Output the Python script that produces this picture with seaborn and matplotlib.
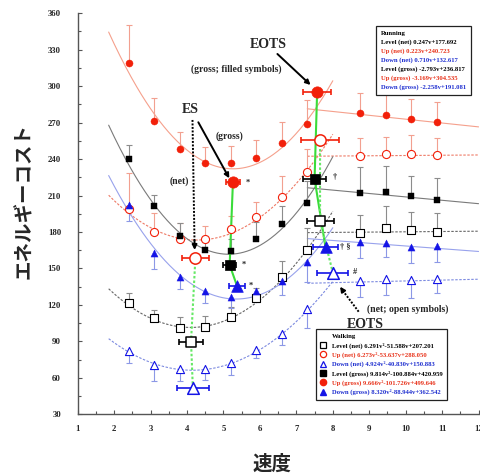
import numpy as np
import pandas as pd
import matplotlib
matplotlib.use("Agg")
import matplotlib.pyplot as plt
from matplotlib.lines import Line2D
from matplotlib.ticker import MultipleLocator
import seaborn as sns

# walking / running speeds
walk_speed = [2.4, 3.1, 3.8, 4.5, 5.2, 5.9, 6.6, 7.3]
run_speed = [8.75, 9.45, 10.15, 10.85]

# walking means and error bars (red/black up, blue down)
up_gross_w = [318.9, 271.6, 248.4, 237.1, 237.1, 241.2, 253.0, 268.7]
up_gross_w_err = [31.5, 19, 14, 13, 13.5, 14.6, 17.8, 20]
up_net_w = [199.2, 180.0, 174.0, 174.0, 182.3, 192.4, 209.1, 229.7]
up_net_w_err = [29.6, 15.4, 13, 11, 11.2, 12.6, 17, 18.4]
level_gross_w = [240.1, 201.0, 177.0, 165.0, 164.5, 174.0, 186.6, 203.7]
level_gross_w_err = [11.5, 9.5, 10, 10, 10, 14.5, 14.8, 18]
level_net_w = [121.4, 109.0, 100.8, 102.1, 109.8, 125.5, 143.0, 165.2]
level_net_w_err = [8.8, 6.8, 9.6, 9, 8.8, 8.2, 13, 18]
down_gross_w = [202.3, 163.0, 142.8, 131.7, 126.8, 131.7, 140.0, 155.6]
down_gross_w_err = [13, 13.4, 9.9, 9.8, 9, 9, 11.8, 16.5]
down_net_w = [82.3, 70.6, 67.0, 67.0, 72.0, 82.9, 95.8, 116.4]
down_net_w_err = [10.3, 12.9, 10, 9, 9.6, 6.8, 8.8, 15.6]

# running means and error bars
up_gross_r = [277.7, 276.1, 273.3, 270.8]
up_gross_r_err = [16.5, 17.5, 16, 16.5]
up_net_r = [242.7, 244.5, 244.0, 243.4]
up_net_r_err = [14.5, 14, 15.8, 13.8]
level_gross_r = [211.9, 213.0, 209.7, 206.4]
level_gross_r_err = [21.9, 21, 16.7, 17.8]
level_net_r = [179.5, 183.3, 181.7, 180.3]
level_net_r_err = [14.5, 18, 15, 15]
down_gross_r = [172.0, 171.2, 167.9, 168.5]
down_gross_r_err = [13.6, 12, 13.6, 12.9]
down_net_r = [139.7, 141.1, 140.5, 141.4]
down_net_r_err = [12.9, 12.9, 15, 11.8]

# ES / EOTS points (order: up, level, down)
es_gross_x = [5.26, 5.17, 5.37]
es_gross_y = [221.4, 152.9, 135.8]
es_gross_xerr = [0.2, 0.17, 0.22]
es_net_x = [4.23, 4.11, 4.16]
es_net_y = [158.9, 89.8, 51.4]
es_net_xerr = [0.37, 0.32, 0.43]
eots_gross_x = [7.57, 7.5, 7.8]
eots_gross_y = [295.5, 223.7, 167.4]
eots_gross_xerr = [0.38, 0.32, 0.33]
eots_net_x = [7.65, 7.65, 8.0]
eots_net_y = [255.8, 189.1, 146.5]
eots_net_xerr = [0.52, 0.37, 0.43]

# regression coefficients shown in the legends
walk_level_net = [6.291, -51.588, 207.201]
walk_up_net = [6.273, -53.637, 288.050]
walk_down_net = [4.924, -40.830, 150.883]
walk_level_gross = [9.814, -100.884, 420.959]
walk_up_gross = [9.666, -101.726, 499.646]
walk_down_gross = [8.320, -88.944, 362.542]
run_level_net = [0.247, 177.692]
run_up_net = [0.223, 240.723]
run_down_net = [0.710, 132.617]
run_level_gross = [-2.793, 236.817]
run_up_gross = [-3.169, 304.535]
run_down_gross = [-2.258, 191.081]

RED = "#F2200A"
BLACK = "#000000"
BLUE = "#1414E6"
TXT_RED = "#E8341C"
TXT_BLUE = "#2030D0"

sns.set_theme(style="ticks")
plt.rcParams["font.family"] = ["Liberation Serif", "DejaVu Serif"]
plt.rcParams["font.weight"] = "bold"

fig = plt.figure(figsize=(4.81, 4.74), dpi=100)
ax = fig.add_axes([0.1615, 0.126, 0.8335, 0.846])

# fitted curves
wx = np.linspace(1.85, 8.0, 200)
rx = np.linspace(7.3, 12.0, 50)
dash = (0, (2.2, 1.4))
curve_styles = [
    (walk_up_gross, run_up_gross, "#F5A08C", "-"),
    (walk_up_net, run_up_net, "#EE7A66", dash),
    (walk_level_gross, run_level_gross, "#7A7A7A", "-"),
    (walk_level_net, run_level_net, "#666666", dash),
    (walk_down_gross, run_down_gross, "#98A2EC", "-"),
    (walk_down_net, run_down_net, "#7C8AE0", dash),
]
for wc, rc, col, ls in curve_styles:
    sns.lineplot(x=wx, y=np.polyval(wc, wx), color=col, lw=0.8, ax=ax, zorder=1).lines[-1].set_linestyle(ls)
    sns.lineplot(x=rx, y=np.polyval(rc, rx), color=col, lw=0.8, ax=ax, zorder=1).lines[-1].set_linestyle(ls)

# data points with one-sided error bars
series = [
    (up_gross_w + up_gross_r, up_gross_w_err + up_gross_r_err, RED, "o", True, 1, "#F2A090"),
    (up_net_w + up_net_r, up_net_w_err + up_net_r_err, RED, "o", False, 1, "#F2A090"),
    (level_gross_w + level_gross_r, level_gross_w_err + level_gross_r_err, BLACK, "s", True, 1, "#8C8C8C"),
    (level_net_w + level_net_r, level_net_w_err + level_net_r_err, BLACK, "s", False, 1, "#8C8C8C"),
    (down_gross_w + down_gross_r, down_gross_w_err + down_gross_r_err, BLUE, "^", True, -1, "#8C98E6"),
    (down_net_w + down_net_r, down_net_w_err + down_net_r_err, BLUE, "^", False, -1, "#8C98E6"),
]
xs = walk_speed + run_speed
for ys, errs, col, mk, filled, sign, ecol in series:
    ys = np.array(ys)
    errs = np.array(errs)
    tips = ys + sign * errs
    ax.vlines(xs, ys, tips, color=ecol, lw=0.8, zorder=2)
    ax.plot(xs, tips, ls="none", marker="_", ms=5, mew=0.8, color=ecol, zorder=2)
    size = 26 if mk != "s" else 21
    if filled:
        sns.scatterplot(x=xs, y=ys, marker=mk, s=size, color=col, edgecolor=col,
                        linewidth=0.3, ax=ax, zorder=4)
    else:
        sns.scatterplot(x=xs, y=ys, marker=mk, s=size + 8, color=col, facecolor="white",
                        edgecolor=col, linewidth=0.8, ax=ax, zorder=4)

# ES / EOTS connecting green lines
for gx, gy, ls, col in [(es_gross_x, es_gross_y, "-", "#3ADC3A"), (eots_gross_x, eots_gross_y, "-", "#3ADC3A"),
                        (es_net_x, es_net_y, (0, (1.2, 1.0)), "#66E866"),
                        (eots_net_x, eots_net_y, (0, (1.2, 1.0)), "#66E866")]:
    ax.plot(gx, gy, color=col, lw=1.5, ls=ls, zorder=3)

cols3 = [RED, BLACK, BLUE]
marks3 = ["o", "s", "^"]
sizes3 = [66, 54, 70]
for bx, by, bxe, filled in [(es_gross_x, es_gross_y, es_gross_xerr, True),
                            (eots_gross_x, eots_gross_y, eots_gross_xerr, True),
                            (es_net_x, es_net_y, es_net_xerr, False),
                            (eots_net_x, eots_net_y, eots_net_xerr, False)]:
    for i in range(3):
        ax.errorbar(bx[i], by[i], xerr=bxe[i], fmt="none", ecolor=cols3[i], elinewidth=1.2,
                    capsize=2.5, capthick=1.2, zorder=5)
        if filled:
            sns.scatterplot(x=[bx[i]], y=[by[i]], marker=marks3[i], s=sizes3[i], color=cols3[i],
                            edgecolor=cols3[i], linewidth=0.5, ax=ax, zorder=6)
        else:
            sns.scatterplot(x=[bx[i]], y=[by[i]], marker=marks3[i], s=sizes3[i], color=cols3[i],
                            facecolor="white", edgecolor=cols3[i], linewidth=1.1, ax=ax, zorder=6)

# annotations
ax.text(4.10, 280.5, "ES", fontsize=10, fontweight="bold", ha="center", va="center")
ax.text(3.78, 221.4, "(net)", fontsize=7, fontweight="bold", ha="center", va="center")
ax.text(5.16, 259, "(gross)", fontsize=7, fontweight="bold", ha="center", va="center")
ax.text(6.22, 334, "EOTS", fontsize=10, fontweight="bold", ha="center", va="center")
ax.text(5.35, 313.8, "(gross; filled symbols)", fontsize=7, fontweight="bold", ha="center", va="center")
ax.text(8.88, 103.5, "EOTS", fontsize=10, fontweight="bold", ha="center", va="center")
ax.text(10.05, 116.2, "(net; open symbols)", fontsize=7, fontweight="bold", ha="center", va="center")
ax.text(5.67, 220.6, "*", fontsize=6, ha="center", va="center")
ax.text(5.55, 152.9, "*", fontsize=6, ha="center", va="center")
ax.text(5.74, 135.8, "*", fontsize=6, ha="center", va="center")
ax.text(8.0, 225, "†", fontsize=6, ha="left", va="center")
ax.text(8.2, 168, "† §", fontsize=6, ha="left", va="center")
ax.text(8.55, 147, "#", fontsize=6, ha="left", va="center")

solid = dict(arrowstyle="-|>", color="black", lw=1.4, mutation_scale=7, shrinkA=0, shrinkB=0)
ax.annotate("", xy=(5.16, 224.2), xytext=(4.31, 270.3), arrowprops=solid)
ax.annotate("", xy=(7.39, 301), xytext=(6.48, 326.5), arrowprops=solid)
ax.plot([4.15, 4.205], [272.2, 172], color="black", lw=1.4, ls=(0, (1, 0.8)))
ax.annotate("", xy=(4.21, 165.2), xytext=(4.205, 173), arrowprops=solid)
ax.plot([8.71, 8.28], [114.4, 131.5], color="black", lw=1.4, ls=(0, (1, 0.8)))
ax.annotate("", xy=(8.2, 135), xytext=(8.29, 131), arrowprops=solid)

# axes styling
ax.set_xlim(1, 12)
ax.set_ylim(30, 360)
ax.xaxis.set_major_locator(MultipleLocator(1))
ax.xaxis.set_minor_locator(MultipleLocator(0.5))
ax.yaxis.set_major_locator(MultipleLocator(30))
ax.yaxis.set_minor_locator(MultipleLocator(15))
sns.despine(ax=ax)
for sp in ["left", "bottom"]:
    ax.spines[sp].set_color("#555555")
    ax.spines[sp].set_linewidth(1.0)
ax.tick_params(which="both", direction="in", color="#555555", width=0.8)
ax.tick_params(which="major", length=3)
ax.tick_params(which="minor", length=2)
ax.tick_params(axis="x", labelsize=6.3, pad=8.0)
ax.tick_params(axis="y", labelsize=6.3, pad=12.0)
for lab in ax.get_xticklabels() + ax.get_yticklabels():
    lab.set_fontweight("bold")
ax.set_xlabel("")
ax.set_ylabel("")

jp = ["Noto Sans CJK JP", "DejaVu Sans"]
fig.text(25 / 481, 1 - 201 / 474, "エネルギーコスト", family=jp, fontsize=14, fontweight="bold",
         rotation=90, ha="center", va="center")
fig.text(272 / 481, 1 - 464 / 474, "速度", family=jp, fontsize=14, fontweight="bold",
         ha="center", va="center")

# walking legend
blank = Line2D([], [], ls="none")
walk_handles = [blank,
                Line2D([], [], ls="none", marker="s", ms=4.5, mfc="white", mec=BLACK, mew=0.9),
                Line2D([], [], ls="none", marker="o", ms=4.5, mfc="white", mec=RED, mew=0.9),
                Line2D([], [], ls="none", marker="^", ms=4.5, mfc="white", mec=BLUE, mew=0.9),
                Line2D([], [], ls="none", marker="s", ms=4.5, color=BLACK),
                Line2D([], [], ls="none", marker="o", ms=4.5, color=RED),
                Line2D([], [], ls="none", marker="^", ms=4.5, color=BLUE)]
walk_labels = ["Walking",
               "Level (net) 6.291v²-51.588v+207.201",
               "Up (net) 6.273v²-53.637v+288.050",
               "Down (net) 4.924v²-40.830v+150.883",
               "Level (gross) 9.814v²-100.884v+420.959",
               "Up (gross) 9.666v²-101.726v+499.646",
               "Down (gross) 8.320v²-88.944v+362.542"]
walk_colors = [BLACK, BLACK, TXT_RED, TXT_BLUE, BLACK, TXT_RED, TXT_BLUE]
leg1 = ax.legend(walk_handles, walk_labels, loc="lower left", bbox_to_anchor=(0.586, 0.027),
                 labelspacing=0.45, handlelength=0.8, handletextpad=0.9,
                 borderpad=0.7, fancybox=False, edgecolor="#222222", framealpha=1,
                 prop={"weight": "bold", "size": 4.8})
leg1.get_frame().set_linewidth(0.9)
for t, c in zip(leg1.get_texts(), walk_colors):
    t.set_color(c)
ax.add_artist(leg1)

# running legend
run_labels = ["Running",
              "Level (net) 0.247v+177.692",
              "Up (net) 0.223v+240.723",
              "Down (net) 0.710v+132.617",
              "Level (gross) -2.793v+236.817",
              "Up (gross) -3.169v+304.535",
              "Down (gross) -2.258v+191.081"]
run_colors = [BLACK, BLACK, TXT_RED, TXT_BLUE, BLACK, TXT_RED, TXT_BLUE]
run_handles = [Line2D([], [], ls="none") for _ in run_labels]
leg2 = ax.legend(run_handles, run_labels, loc="upper left", bbox_to_anchor=(0.736, 0.977),
                 labelspacing=0.45, handlelength=0, handletextpad=0,
                 borderpad=0.7, fancybox=False, edgecolor="#222222", framealpha=1,
                 prop={"weight": "bold", "size": 4.8})
leg2.get_frame().set_linewidth(0.9)
for t, c in zip(leg2.get_texts(), run_colors):
    t.set_color(c)

fig.savefig("out.png", dpi=100)
